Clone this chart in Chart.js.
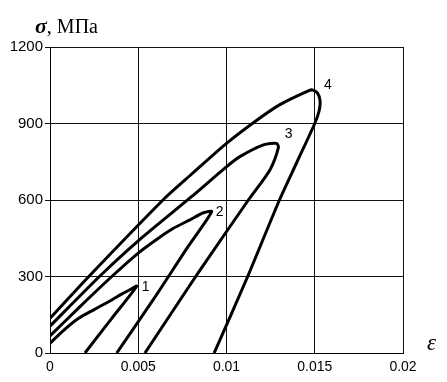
<!DOCTYPE html>
<html>
<head>
<meta charset="utf-8">
<script src="https://cdn.jsdelivr.net/npm/chart.js@4/dist/chart.umd.min.js"></script>
<style>
  html, body { margin: 0; padding: 0; background: #fff; }
  #wrap { width: 447px; height: 382px; }
</style>
</head>
<body>
<div id="wrap"><canvas id="c" width="447" height="382"></canvas></div>
<script>
// ---- Data ----
const strainTicks = [0, 0.005, 0.01, 0.015, 0.02];
const strainTickLabels = ['0', '0.005', '0.01', '0.015', '0.02'];
const stressTicks = [0, 300, 600, 900, 1200];
const stressTickLabels = ['0', '300', '600', '900', '1200'];

const loopNames = ['1', '2', '3', '4'];

// each loop: from the strain axis up to the tip, then back down to the stress axis
const loop1Strain = [0.00198, 0.0035, 0.00491, 0.0045, 0.00406, 0.0035, 0.00255, 0.0016, 0.00066, 0];
const loop1Stress = [0, 136, 262, 247, 231, 208, 172, 135, 82, 38];

const loop2Strain = [0.00378, 0.00585, 0.0078, 0.00916, 0.00869, 0.00793, 0.00699, 0.0062, 0.005, 0.0035, 0.0017, 0];
const loop2Stress = [0, 209, 415, 554, 550, 522, 489, 453, 392, 300, 182, 67];

const loop3Strain = [0.00538, 0.00737, 0.0085, 0.01124, 0.01246, 0.01294, 0.01284, 0.01209, 0.01076, 0.01001, 0.0080, 0.0050, 0.0028, 0];
const loop3Stress = [0, 208, 325, 600, 718, 805, 822, 816, 770, 731, 612, 440, 300, 105];

const loop4Strain = [0.0093, 0.0112, 0.0130, 0.0140, 0.0150, 0.01525, 0.0153, 0.01515, 0.0149, 0.0147, 0.0130, 0.0116, 0.0100, 0.0080, 0.0064, 0.0022, 0];
const loop4Stress = [0, 300, 600, 750, 900, 950, 990, 1020, 1031, 1030, 973, 907, 822, 700, 600, 300, 136];

const loopStrains = [loop1Strain, loop2Strain, loop3Strain, loop4Strain];
const loopStresses = [loop1Stress, loop2Stress, loop3Stress, loop4Stress];

// ---- Styling ----
const labelOffsets = [[9, 1], [8, 0], [12, -9], [15, -5]]; // pixel offsets of loop numbers from tips

const datasets = loopStrains.map((xs, i) => ({
  label: loopNames[i],
  data: xs.map((x, k) => ({ x: x, y: loopStresses[i][k] })),
  showLine: true,
  borderColor: '#000',
  borderWidth: 3,
  pointRadius: 0,
  tension: 0.25,
  fill: false
}));

const textPlugin = {
  id: 'texts',
  beforeDraw(chart) {
    const ctx = chart.ctx;
    ctx.save();
    ctx.fillStyle = '#fff';
    ctx.fillRect(0, 0, chart.width, chart.height);
    ctx.restore();
  },
  afterDraw(chart) {
    const ctx = chart.ctx;
    const area = chart.chartArea;
    const xs = chart.scales.x, ys = chart.scales.y;
    ctx.save();
    ctx.fillStyle = '#000';
    ctx.textBaseline = 'alphabetic';
    // axis title sigma, MPa
    ctx.textAlign = 'left';
    ctx.font = 'italic bold 22px "Liberation Serif"';
    const sx = area.left - 15, sy = area.top - 14;
    ctx.fillText('σ', sx, sy);
    const w = ctx.measureText('σ').width;
    ctx.font = '20px "Liberation Serif"';
    ctx.fillText(', МПа', sx + w, sy);
    // epsilon
    ctx.font = 'italic 23px "Liberation Serif"';
    ctx.fillText('ε', area.right + 24, area.bottom - 3);
    // loop numbers at tips
    ctx.font = '14px "Liberation Sans"';
    ctx.textAlign = 'center';
    ctx.textBaseline = 'middle';
    loopStresses.forEach((ss, i) => {
      let k = 0;
      ss.forEach((v, j) => { if (v > ss[k]) k = j; });
      const px = xs.getPixelForValue(loopStrains[i][k]);
      const py = ys.getPixelForValue(ss[k]);
      ctx.fillText(loopNames[i], px + labelOffsets[i][0], py + labelOffsets[i][1]);
    });
    ctx.restore();
  }
};

new Chart(document.getElementById('c'), {
  type: 'scatter',
  data: { datasets: datasets },
  options: {
    responsive: false,
    animation: false,
    devicePixelRatio: 1,
    layout: { padding: { top: 47, right: 44, left: 0, bottom: 0 } },
    plugins: { legend: { display: false }, tooltip: { enabled: false } },
    scales: {
      x: {
        type: 'linear',
        min: 0, max: 0.02,
        afterBuildTicks: s => { s.ticks = strainTicks.map(v => ({ value: v })); },
        afterFit: s => { s.height = 29; },
        ticks: {
          color: '#000',
          font: { family: '"Liberation Sans"', size: 14 },
          padding: 6,
          maxRotation: 0,
          autoSkip: false,
          callback: (v) => { const i = strainTicks.findIndex(t => Math.abs(t - v) < 1e-9); return i >= 0 ? strainTickLabels[i] : ''; }
        },
        grid: { color: '#111', lineWidth: 1, drawTicks: false },
        border: { display: true, color: '#000', width: 1 }
      },
      y: {
        type: 'linear',
        min: 0, max: 1200,
        afterBuildTicks: s => { s.ticks = stressTicks.map(v => ({ value: v })); },
        afterFit: s => { s.width = 50; },
        ticks: {
          color: '#000',
          font: { family: '"Liberation Sans"', size: 15 },
          padding: 2,
          autoSkip: false,
          callback: (v) => { const i = stressTicks.indexOf(v); return i >= 0 ? stressTickLabels[i] : ''; }
        },
        grid: { color: '#111', lineWidth: 1, drawTicks: true, tickLength: 5 },
        border: { display: true, color: '#000', width: 1 }
      }
    }
  },
  plugins: [textPlugin]
});
</script>
</body>
</html>
